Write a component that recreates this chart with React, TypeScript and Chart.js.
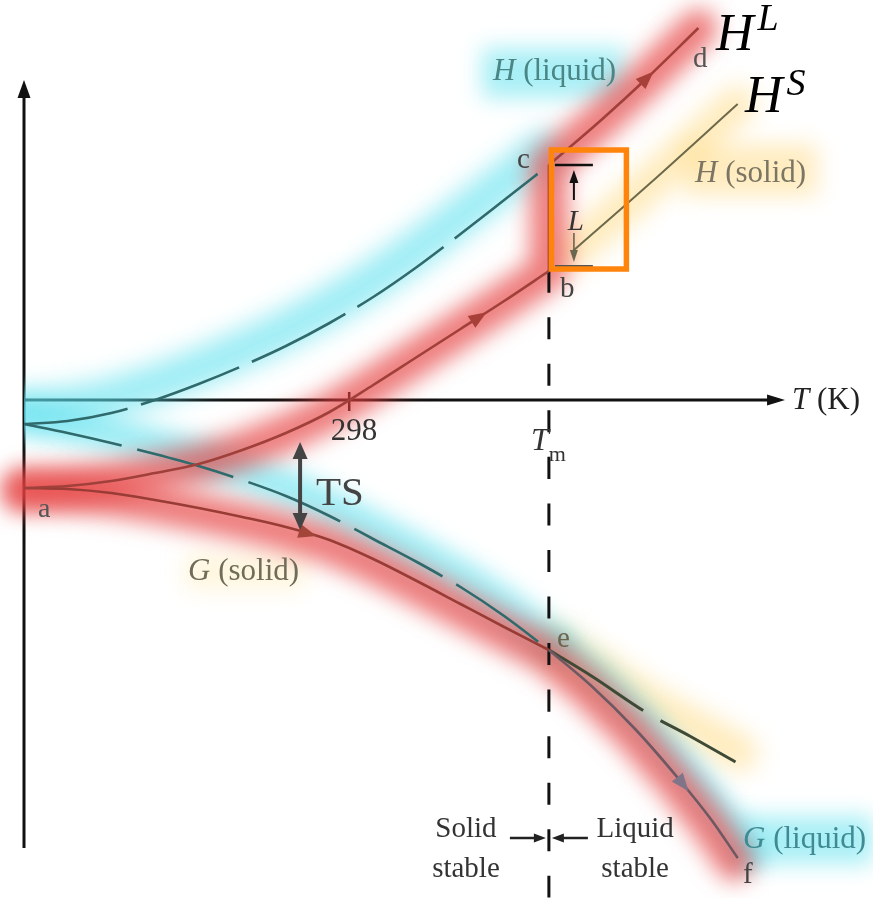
import React, { useEffect, useRef } from 'react';
import { Chart, registerables } from 'chart.js';

Chart.register(...registerables);

// Temperatures (K) of the low-temperature branches, from 0 K up to the melting point.
const T_LOW = [0, 40, 80, 120, 160, 200, 240, 280, 320, 360, 400, 440, 481];
const H_SOLID = [-8.8, -8.6, -8.1, -7.3, -6.4, -5.0, -3.3, -1.2, 1.5, 4.3, 7.1, 9.9, 12.9];
const H_LIQUID = [-2.4, -2.1, -1.3, 0.0, 1.6, 3.4, 5.4, 7.7, 10.3, 13.3, 16.6, 20.0, 23.5];
const G_SOLID = [-8.8, -8.9, -9.3, -10.0, -10.8, -11.7, -12.7, -14.0, -15.9, -18.1, -20.4, -22.7, -25.0];
const G_LIQUID = [-2.4, -3.3, -4.3, -5.4, -6.6, -8.0, -9.6, -11.6, -13.9, -16.2, -18.7, -21.6, -25.0];

// Branches above the melting point.
const T_H_LIQ_HIGH = [481, 530, 570, 618];
const H_LIQ_HIGH = [23.5, 28.1, 32.1, 37.2];
const T_H_SOL_HIGH = [502, 574, 654];
const H_SOL_HIGH = [14.8, 21.7, 29.6];
const T_G_LIQ_HIGH = [481, 520, 560, 600, 630, 654];
const G_LIQ_HIGH = [-25.0, -28.6, -32.9, -37.9, -42.0, -45.8];
const T_G_SOL_HIGH = [481, 520, 571, 610, 652];
const G_SOL_HIGH = [-25.0, -27.6, -31.3, -33.6, -36.2];

// Marked temperatures on the T axis.
const T_ROOM = 298;
const T_MELT = 481;
const TICK_LABELS = ['298', 'T', 'm'];

// TS gap marker at T = 253 K.
const TS_T = 253;
const TS_TOP = -4.2;
const TS_BOTTOM = -13.0;

// Plot window.
const X_MAX = 778;
const Y_MIN = -49.8;
const Y_MAX = 40;
const Y_AXIS_TOP = 32;
const Y_AXIS_BOTTOM = -44.8;
const X_AXIS_END = 697.4;

const SERIF = '"Liberation Serif", "Times New Roman", serif';

const pts = (xs: number[], ys: number[]) => xs.map((x, i) => ({ x, y: ys[i] }));
const last = (a: number[]) => a[a.length - 1];

function interp(xs: number[], ys: number[], t: number) {
  for (let i = 0; i < xs.length - 1; i++) {
    if (t >= xs[i] && t <= xs[i + 1]) {
      const f = (t - xs[i]) / (xs[i + 1] - xs[i]);
      return ys[i] + f * (ys[i + 1] - ys[i]);
    }
  }
  return t < xs[0] ? ys[0] : last(ys);
}

type Run = { text: string; italic?: boolean; size?: number; dy?: number; dx?: number };

function drawRuns(ctx: CanvasRenderingContext2D, x: number, y: number, runs: Run[], size: number, color: string, align: 'left' | 'center' = 'left') {
  const fontOf = (r: Run) => `${r.italic ? 'italic ' : ''}${r.size ?? size}px ${SERIF}`;
  let total = 0;
  for (const r of runs) {
    ctx.font = fontOf(r);
    total += ctx.measureText(r.text).width + (r.dx ?? 0);
  }
  let cx = align === 'center' ? x - total / 2 : x;
  ctx.fillStyle = color;
  ctx.textAlign = 'left';
  ctx.textBaseline = 'alphabetic';
  for (const r of runs) {
    ctx.font = fontOf(r);
    cx += r.dx ?? 0;
    ctx.fillText(r.text, cx, y + (r.dy ?? 0));
    cx += ctx.measureText(r.text).width;
  }
}

function arrowHead(ctx: CanvasRenderingContext2D, tipX: number, tipY: number, dx: number, dy: number, len: number, half: number, color: string) {
  const n = Math.hypot(dx, dy) || 1;
  const ux = dx / n, uy = dy / n;
  const bx = tipX - ux * len, by = tipY - uy * len;
  ctx.fillStyle = color;
  ctx.beginPath();
  ctx.moveTo(tipX, tipY);
  ctx.lineTo(bx - uy * half, by + ux * half);
  ctx.lineTo(bx + uy * half, by - ux * half);
  ctx.closePath();
  ctx.fill();
}

// Text labels placed in data coordinates (T in K, energy in plot units).
const LABELS: { t: number; y: number; runs: Run[]; size: number; color: string; align?: 'left' | 'center' }[] = [
  { t: 12.8, y: -11.7, runs: [{ text: 'a' }], size: 28, color: '#555' },
  { t: 491.2, y: 10.3, runs: [{ text: 'b' }], size: 29, color: '#444' },
  { t: 451.8, y: 23.2, runs: [{ text: 'c' }], size: 29, color: '#444' },
  { t: 613.0, y: 33.3, runs: [{ text: 'd' }], size: 29, color: '#555' },
  { t: 488.4, y: -24.7, runs: [{ text: 'e' }], size: 29, color: '#6b6650' },
  { t: 658.9, y: -48.3, runs: [{ text: 'f' }], size: 29, color: '#444' },
  { t: 429.8, y: 32.0, runs: [{ text: 'H', italic: true }, { text: ' (liquid)' }], size: 31, color: '#4a8686' },
  { t: 614.9, y: 21.8, runs: [{ text: 'H', italic: true }, { text: ' (solid)' }], size: 31, color: '#7b7664' },
  { t: 150.3, y: -18.0, runs: [{ text: 'G', italic: true }, { text: ' (solid)' }], size: 31, color: '#6f6c58' },
  { t: 658.9, y: -44.8, runs: [{ text: 'G', italic: true }, { text: ' (liquid)' }], size: 31, color: '#3f8b93' },
  { t: 703.8, y: -0.9, runs: [{ text: 'T', italic: true }, { text: ' (K)' }], size: 31, color: '#222' },
  { t: 302.4, y: -4.0, runs: [{ text: TICK_LABELS[0] }], size: 31, color: '#333', align: 'center' },
  { t: 464.6, y: -5.0, runs: [{ text: TICK_LABELS[1], italic: true }, { text: TICK_LABELS[2], size: 22, dy: 11 }], size: 32, color: '#333' },
  { t: 267.6, y: -10.5, runs: [{ text: 'TS' }], size: 41, color: '#444' },
  { t: 405, y: -43.7, runs: [{ text: 'Solid' }], size: 29, color: '#333', align: 'center' },
  { t: 405, y: -47.7, runs: [{ text: 'stable' }], size: 29, color: '#333', align: 'center' },
  { t: 560, y: -43.7, runs: [{ text: 'Liquid' }], size: 29, color: '#333', align: 'center' },
  { t: 560, y: -47.7, runs: [{ text: 'stable' }], size: 29, color: '#333', align: 'center' },
  { t: 634.1, y: 35.0, runs: [{ text: 'H', italic: true }, { text: 'L', italic: true, size: 38, dy: -20, dx: 4 }], size: 52, color: '#000' },
  { t: 660.7, y: 28.8, runs: [{ text: 'H', italic: true }, { text: 'S', italic: true, size: 38, dy: -17, dx: 4 }], size: 52, color: '#000' },
];

// Soft colour patches behind the curve names.
const HALOS = [
  { t0: 419.7, t1: 550.7, y0: 35.2, y1: 30.2, color: 'rgba(110, 228, 240, 0.6)' },
  { t0: 604.5, t1: 726.9, y0: 25.6, y1: 20.4, color: 'rgba(255, 220, 140, 0.55)' },
  { t0: 147.5, t1: 257.5, y0: -15.3, y1: -19.0, color: 'rgba(255, 228, 160, 0.35)' },
  { t0: 654.3, t1: 778, y0: -41.6, y1: -46.4, color: 'rgba(110, 228, 240, 0.6)' },
];

// Direction arrows along the curves.
const CURVE_ARROWS = [
  { xs: T_LOW, ys: H_SOLID, t: 418, color: '#a8403a' },
  { xs: T_H_LIQ_HIGH, ys: H_LIQ_HIGH, t: 571, color: '#a8403a' },
  { xs: T_LOW, ys: G_SOLID, t: 262, color: '#a4453a' },
  { xs: T_G_LIQ_HIGH, ys: G_LIQ_HIGH, t: 603, color: '#7f7488' },
];

const glowPlugin = {
  id: 'glow',
  beforeDatasetDraw(chart: any, args: any) {
    const ds = chart.data.datasets[args.index];
    if (!ds.glow) return;
    const ctx = chart.ctx;
    ctx.save();
    ctx.filter = `blur(${ds.glow}px)`;
    if (ds.shift) ctx.translate(ds.shift[0], ds.shift[1]);
  },
  afterDatasetDraw(chart: any, args: any) {
    const ds = chart.data.datasets[args.index];
    if (ds.glow) chart.ctx.restore();
  },
};

const decorPlugin = {
  id: 'decor',
  beforeDatasetsDraw(chart: any) {
    const ctx: CanvasRenderingContext2D = chart.ctx;
    const X = (v: number) => chart.scales.x.getPixelForValue(v);
    const Y = (v: number) => chart.scales.y.getPixelForValue(v);

    ctx.save();
    ctx.filter = 'blur(11px)';
    for (const h of HALOS) {
      ctx.fillStyle = h.color;
      ctx.fillRect(X(h.t0), Y(h.y0), X(h.t1) - X(h.t0), Y(h.y1) - Y(h.y0));
    }
    ctx.restore();

    // axes
    ctx.save();
    ctx.strokeStyle = '#111';
    ctx.lineWidth = 3;
    ctx.lineCap = 'butt';
    const x0 = X(0), y0 = Y(0);
    const yTop = Y(Y_AXIS_TOP), yBot = Y(Y_AXIS_BOTTOM), xEnd = X(X_AXIS_END);
    ctx.beginPath();
    ctx.moveTo(x0, yBot);
    ctx.lineTo(x0, yTop + 14);
    ctx.moveTo(x0, y0);
    ctx.lineTo(xEnd - 14, y0);
    ctx.stroke();
    arrowHead(ctx, x0, yTop, 0, -1, 18, 6.5, '#111');
    arrowHead(ctx, xEnd, y0, 1, 0, 18, 5.5, '#111');
    // 298 K tick
    ctx.lineWidth = 2.5;
    ctx.beginPath();
    ctx.moveTo(X(T_ROOM), y0 - 8);
    ctx.lineTo(X(T_ROOM), y0 + 11);
    ctx.stroke();
    ctx.restore();
  },
  afterDatasetsDraw(chart: any) {
    const ctx: CanvasRenderingContext2D = chart.ctx;
    const X = (v: number) => chart.scales.x.getPixelForValue(v);
    const Y = (v: number) => chart.scales.y.getPixelForValue(v);
    ctx.save();

    for (const a of CURVE_ARROWS) {
      const d = 3;
      const xa = X(a.t - d), ya = Y(interp(a.xs, a.ys, a.t - d));
      const xb = X(a.t + d), yb = Y(interp(a.xs, a.ys, a.t + d));
      const tx = X(a.t + 6), ty = Y(interp(a.xs, a.ys, a.t + 6));
      arrowHead(ctx, tx, ty, xb - xa, yb - ya, 18, 7, a.color);
    }

    // TS double arrow
    const tsx = X(TS_T), tsTop = Y(TS_TOP), tsBot = Y(TS_BOTTOM);
    ctx.strokeStyle = '#444';
    ctx.lineWidth = 4;
    ctx.beginPath();
    ctx.moveTo(tsx, tsTop + 14);
    ctx.lineTo(tsx, tsBot - 14);
    ctx.stroke();
    arrowHead(ctx, tsx, tsTop, 0, -1, 17, 7.5, '#444');
    arrowHead(ctx, tsx, tsBot, 0, 1, 17, 7.5, '#444');

    // latent heat marker at the melting point
    const xm = X(T_MELT);
    const yc = Y(H_LIQ_HIGH[0]);
    const yb = Y(last(H_SOLID));
    ctx.lineWidth = 2.5;
    ctx.strokeStyle = '#111';
    ctx.beginPath();
    ctx.moveTo(xm + 6, yc);
    ctx.lineTo(xm + 44, yc);
    ctx.stroke();
    ctx.strokeStyle = '#555';
    ctx.lineWidth = 2;
    ctx.beginPath();
    ctx.moveTo(xm + 6, yb - 5);
    ctx.lineTo(xm + 44, yb - 5);
    ctx.stroke();
    const xl = xm + 25;
    ctx.strokeStyle = '#111';
    ctx.lineWidth = 2;
    ctx.beginPath();
    ctx.moveTo(xl, yc + 35);
    ctx.lineTo(xl, yc + 14);
    ctx.stroke();
    arrowHead(ctx, xl, yc + 5, 0, -1, 13, 4.5, '#111');
    ctx.strokeStyle = '#6b6650';
    ctx.lineWidth = 1.6;
    ctx.beginPath();
    ctx.moveTo(xl, yb - 38);
    ctx.lineTo(xl, yb - 18);
    ctx.stroke();
    arrowHead(ctx, xl, yb - 9, 0, 1, 12, 4, '#6b6650');
    drawRuns(ctx, xl + 2, yb - 41, [{ text: 'L', italic: true }], 29, '#333', 'center');

    ctx.strokeStyle = 'rgb(255, 132, 12)';
    ctx.lineWidth = 5.5;
    ctx.strokeRect(xm + 2.5, yc - 15, 75, yb - 2 - (yc - 15));

    // stability arrows at the bottom of the melting line
    const ys = Y(-43.8);
    ctx.strokeStyle = '#222';
    ctx.lineWidth = 2.5;
    ctx.beginPath();
    ctx.moveTo(xm - 39, ys);
    ctx.lineTo(xm - 12, ys);
    ctx.moveTo(xm + 39, ys);
    ctx.lineTo(xm + 12, ys);
    ctx.stroke();
    arrowHead(ctx, xm - 3, ys, 1, 0, 12, 4.5, '#222');
    arrowHead(ctx, xm + 3, ys, -1, 0, 12, 4.5, '#222');

    for (const l of LABELS) {
      drawRuns(ctx, X(l.t), Y(l.y), l.runs, l.size, l.color, l.align ?? 'left');
    }
    ctx.restore();
  },
};

const RED_GLOW = 'rgba(230, 64, 64, 0.68)';
const CYAN_GLOW = 'rgba(95, 225, 238, 0.6)';
const YELLOW_GLOW = 'rgba(255, 215, 120, 0.5)';

function glow(data: any[], color: string, width: number, blur: number, order: number, shift?: number[], clipLeft?: boolean) {
  return {
    data,
    borderColor: color,
    borderWidth: width,
    borderCapStyle: 'round',
    borderJoinStyle: 'round',
    tension: 0,
    pointRadius: 0,
    clip: clipLeft ? { left: shift ? shift[0] : 0, top: false, right: false, bottom: false } : false,
    order,
    glow: blur,
    shift,
  };
}

function curve(data: any[], color: string, width: number, dash?: number[]) {
  return {
    data,
    borderColor: color,
    borderWidth: width,
    borderDash: dash ?? [],
    cubicInterpolationMode: 'monotone',
    pointRadius: 0,
    clip: false,
    order: 0,
  };
}

export default function App() {
  const ref = useRef<HTMLCanvasElement | null>(null);

  useEffect(() => {
    if (!ref.current) return;
    const datasets: any[] = [
      // glows
      glow(pts(T_LOW, H_LIQUID), CYAN_GLOW, 40, 12, 12, [-5, -14], true),
      glow(pts(T_LOW, G_LIQUID), CYAN_GLOW, 36, 11, 12, [2, -8], true),
      glow(pts(T_G_LIQ_HIGH, G_LIQ_HIGH), CYAN_GLOW, 30, 10, 12, [12, -4]),
      glow(pts(T_H_SOL_HIGH, H_SOL_HIGH), YELLOW_GLOW, 36, 12, 12),
      glow(pts(T_G_SOL_HIGH, G_SOL_HIGH), YELLOW_GLOW, 36, 12, 12, [4, -9]),
      glow([...pts(T_LOW, H_SOLID), ...pts(T_H_LIQ_HIGH, H_LIQ_HIGH)], RED_GLOW, 38, 11, 11),
      glow([...pts(T_LOW, G_SOLID), ...pts(T_G_LIQ_HIGH, G_LIQ_HIGH).slice(1)], RED_GLOW, 38, 11, 11, [-3, 4]),
      // curves
      curve(pts(T_LOW, H_SOLID), '#a0403a', 2.6),
      curve([{ x: T_MELT, y: last(H_SOLID) }, { x: T_MELT, y: H_LIQ_HIGH[0] }], '#a0403a', 2.6),
      curve(pts(T_H_LIQ_HIGH, H_LIQ_HIGH), '#a0403a', 2.6),
      curve(pts(T_LOW, H_LIQUID), '#2f6a6c', 2.6, [105, 14]),
      curve(pts(T_LOW, G_SOLID), '#983c35', 2.6),
      curve(pts(T_LOW, G_LIQUID), '#2f6a6c', 2.6, [100, 16]),
      curve(pts(T_G_LIQ_HIGH, G_LIQ_HIGH), '#6e5862', 2.6),
      curve(pts(T_G_SOL_HIGH, G_SOL_HIGH), '#3f4a36', 3, [112, 20]),
      curve(pts(T_H_SOL_HIGH, H_SOL_HIGH), '#6d6a4c', 2),
      curve([{ x: T_MELT, y: last(H_SOLID) }, { x: T_MELT, y: Y_MIN }], '#111', 3, [22, 24.5]),
    ];

    const chart = new Chart(ref.current, {
      type: 'line',
      data: { datasets },
      options: {
        animation: false,
        responsive: false,
        devicePixelRatio: 1,
        layout: { padding: { left: 24, right: 0, top: 0, bottom: 0 } },
        scales: {
          x: { type: 'linear', min: 0, max: X_MAX, display: false },
          y: { type: 'linear', min: Y_MIN, max: Y_MAX, display: false },
        },
        plugins: { legend: { display: false }, tooltip: { enabled: false } },
        elements: { point: { radius: 0 } },
      },
      plugins: [glowPlugin, decorPlugin],
    } as any);
    return () => chart.destroy();
  }, []);

  return (
    <div style={{ position: 'absolute', left: 0, top: 0, width: 873, height: 898, background: '#fff' }}>
      <canvas ref={ref} width={873} height={898} style={{ display: 'block' }} />
    </div>
  );
}
